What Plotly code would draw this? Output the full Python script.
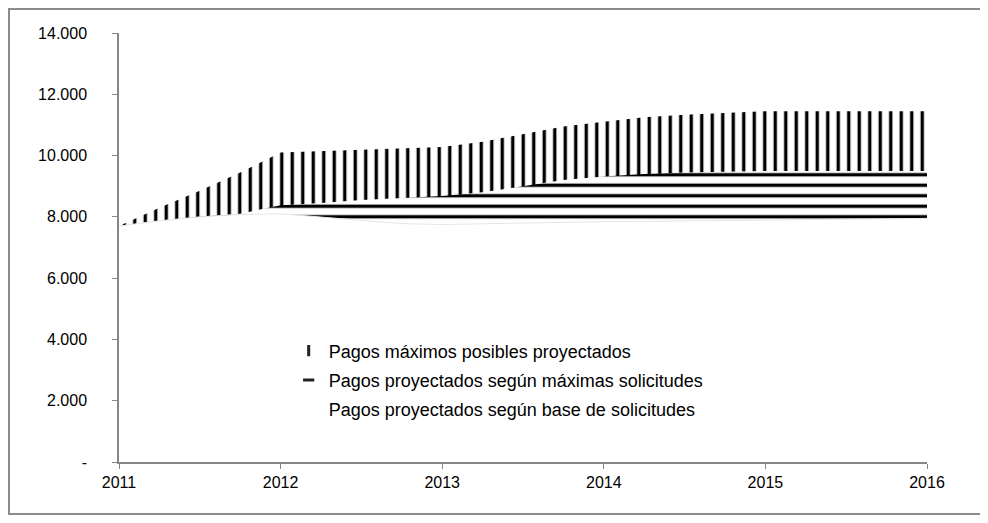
import plotly.graph_objects as go

# Data
years = [2011.0, 2011.25, 2011.5, 2011.75, 2012.0, 2012.25, 2012.5, 2012.75,
         2013.0, 2013.25, 2013.5, 2013.75, 2014.0, 2014.25, 2014.5, 2014.75,
         2015.0, 2015.25, 2015.5, 2015.75, 2016.0]

pagos_maximos_posibles = [7700, 8300, 8850, 9450, 10100, 10150, 10200, 10230,
                          10280, 10450, 10700, 10950, 11100, 11250, 11330, 11400,
                          11450, 11450, 11450, 11450, 11450]

pagos_maximas_solicitudes = [7700, 7870, 8000, 8100, 8380, 8450, 8550, 8620,
                             8680, 8800, 9000, 9200, 9320, 9400, 9450, 9480,
                             9500, 9500, 9500, 9500, 9500]

pagos_base_solicitudes = [7700, 7870, 8000, 8080, 8100, 8000, 7880, 7780,
                          7750, 7780, 7800, 7820, 7840, 7855, 7870, 7885,
                          7900, 7910, 7920, 7935, 7950]

series_names = ["Pagos máximos posibles proyectados",
                "Pagos proyectados según máximas solicitudes",
                "Pagos proyectados según base de solicitudes"]

y_tickvals = [0, 2000, 4000, 6000, 8000, 10000, 12000, 14000]
y_ticktext = ["-", "2.000", "4.000", "6.000", "8.000", "10.000", "12.000", "14.000"]
x_tickvals = [2011, 2012, 2013, 2014, 2015, 2016]
x_ticktext = ["2011", "2012", "2013", "2014", "2015", "2016"]

FONT = "Liberation Sans, Arial, sans-serif"

# page has an 8px body margin: figure is offset by (8, 8)
W, H = 980, 507
L, T = 111, 25
PW, PH = 808, 429
R = W - L - PW
B = H - T - PH
plot_bottom = T + PH

fig = go.Figure()

# filled areas (overlapping, each filled to zero)
fig.add_trace(go.Scatter(
    x=years, y=pagos_maximos_posibles, name=series_names[0],
    mode="lines", fill="tozeroy", line=dict(width=0, color="#000000"),
    fillcolor="rgba(0,0,0,0)",
    fillpattern=dict(shape="|", fgcolor="#000000", fgopacity=1, bgcolor="white",
                     size=10.5, solidity=0.32),
    showlegend=False, hoverinfo="skip"))

fig.add_trace(go.Scatter(
    x=years, y=pagos_maximas_solicitudes, name=series_names[1],
    mode="lines", fill="tozeroy", line=dict(width=0, color="#000000"),
    fillcolor="rgba(0,0,0,0)",
    fillpattern=dict(shape="-", fgcolor="#000000", fgopacity=1, bgcolor="white",
                     size=10.5, solidity=0.32),
    showlegend=False, hoverinfo="skip"))

fig.add_trace(go.Scatter(
    x=years, y=pagos_base_solicitudes, name=series_names[2],
    mode="lines", fill="tozeroy", line=dict(width=1, color="#e6e6e6"),
    fillcolor="white",
    showlegend=False, hoverinfo="skip"))

# legend entries (small icons like the reference)
legend_symbols = ["line-ns", "line-ew", "line-ew"]
legend_colors = ["#222222", "#222222", "rgba(255,255,255,0)"]
for i, nm in enumerate(series_names):
    fig.add_trace(go.Scatter(
        x=[None], y=[None], name=nm, mode="markers",
        marker=dict(symbol=legend_symbols[i], size=8,
                    line=dict(width=3, color=legend_colors[i])),
        legendgroup=f"g{i}", showlegend=True, hoverinfo="skip"))

fig.update_layout(
    width=W, height=H,
    margin=dict(l=L, r=R, t=T, b=B),
    paper_bgcolor="white", plot_bgcolor="white",
    font=dict(family=FONT, size=16, color="#000000"),
    showlegend=True,
    legend=dict(x=0.21, y=0.302, xanchor="left", yanchor="top",
                bgcolor="rgba(0,0,0,0)", traceorder="grouped",
                tracegroupgap=3, font=dict(size=18, family=FONT)),
    xaxis=dict(range=[2011, 2016], tickvals=x_tickvals, ticktext=x_ticktext,
               showgrid=False, zeroline=False, showline=True,
               linecolor="#868686", linewidth=1.5, ticks="outside",
               ticklen=5, tickcolor="#868686"),
    yaxis=dict(range=[0, 14000], tickvals=y_tickvals, ticktext=y_ticktext,
               showgrid=False, zeroline=False, showline=True,
               linecolor="#868686", linewidth=1.5, ticks="outside",
               ticklen=5, tickcolor="#868686", ticklabelstandoff=22),
    shapes=[dict(type="rect", xref="paper", yref="paper",
                 x0=(1 - L) / PW, x1=(977 - L) / PW,
                 y0=(plot_bottom - (H - 1)) / PH, y1=(plot_bottom - 1) / PH,
                 line=dict(color="#8c8c8c", width=2), fillcolor="rgba(0,0,0,0)",
                 layer="below")],
)

fig.write_html("out.html")
